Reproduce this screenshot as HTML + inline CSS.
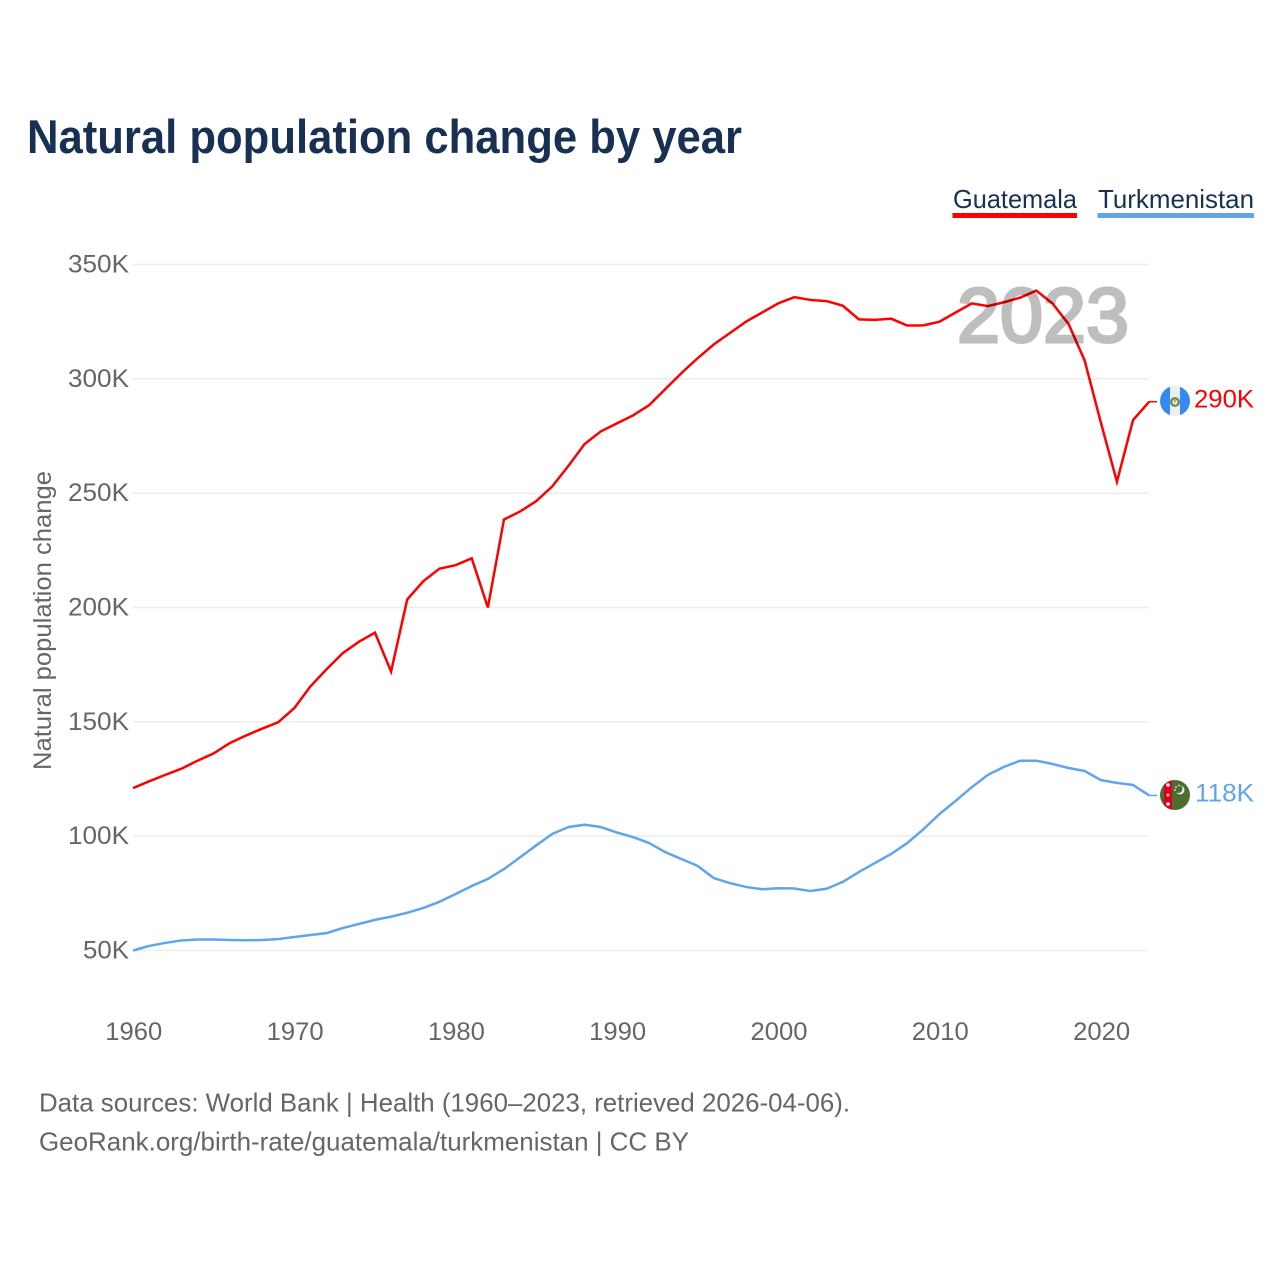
<!DOCTYPE html>
<html lang="en">
<head>
<meta charset="utf-8">
<title>Natural population change by year</title>
<style>
html,body{margin:0;padding:0;background:#fff;}
svg{display:block;font-family:"Liberation Sans",sans-serif;}
</style>
</head>
<body>
<svg id="chart" xmlns="http://www.w3.org/2000/svg" width="1280" height="1280" viewBox="0 0 1280 1280">
  <rect width="1280" height="1280" fill="#fff"/>
  <text x="27" y="153" font-size="47" font-weight="700" fill="#183153" textLength="715" lengthAdjust="spacingAndGlyphs">Natural population change by year</text>

  <text x="953" y="208" font-size="26" fill="#183153" textLength="124" lengthAdjust="spacingAndGlyphs">Guatemala</text>
  <rect x="952.5" y="213" width="124.5" height="5" fill="#ff0000"/>
  <text x="1098" y="208" font-size="26" fill="#183153" textLength="156" lengthAdjust="spacingAndGlyphs">Turkmenistan</text>
  <rect x="1097.5" y="213" width="156.5" height="5" fill="#5fa5ec"/>

  <g id="grid"></g>
  <g id="yticks"></g>
  <g id="xticks"></g>

  <text transform="translate(51 620.5) rotate(-90)" text-anchor="middle" font-size="25" fill="#666" textLength="299" lengthAdjust="spacingAndGlyphs">Natural population change</text>

  <g id="series"></g>

  <g opacity="0.25">
    <text x="957" y="342" font-size="77" fill="#000" stroke="#000" stroke-width="3" textLength="172" lengthAdjust="spacingAndGlyphs">2023</text>
  </g>

  <g>
    <clipPath id="clip-gt"><circle cx="1175" cy="401" r="15"/></clipPath>
    <g clip-path="url(#clip-gt)">
      <rect x="1160" y="386" width="30" height="30" fill="#eeeeee"/>
      <rect x="1160" y="386" width="10" height="30" fill="#338af3"/>
      <rect x="1180" y="386" width="10" height="30" fill="#338af3"/>
      <circle cx="1175" cy="402" r="3.8" fill="none" stroke="#6d8a4e" stroke-width="2.4"/>
      <circle cx="1175" cy="401" r="1.4" fill="#b9a888"/>
    </g>
  </g>
  <text id="end-guatemala" x="1194" y="407.5" font-size="25" fill="#ff0000" textLength="60" lengthAdjust="spacingAndGlyphs">290K</text>

  <g>
    <clipPath id="clip-tm"><circle cx="1175" cy="795" r="15"/></clipPath>
    <g clip-path="url(#clip-tm)">
      <rect x="1160" y="780" width="30" height="30" fill="#496e2d"/>
      <rect x="1164" y="780" width="8" height="30" fill="#d80027"/>
      <circle cx="1168" cy="785" r="1.8" fill="#eeeeee"/>
      <circle cx="1168" cy="795" r="1.5" fill="#ffda44"/>
      <circle cx="1168" cy="804" r="1.8" fill="#eeeeee"/>
      <circle cx="1180" cy="790" r="4.5" fill="#eeeeee"/>
      <circle cx="1178.5" cy="789" r="4" fill="#496e2d"/>
      <circle cx="1176" cy="787" r="0.9" fill="#eeeeee"/>
      <circle cx="1179" cy="785.5" r="0.9" fill="#eeeeee"/>
      <circle cx="1175" cy="790" r="0.9" fill="#eeeeee"/>
    </g>
  </g>
  <text id="end-turkmenistan" x="1195" y="801.5" font-size="25" fill="#5fa5ec" textLength="59" lengthAdjust="spacingAndGlyphs">118K</text>

  <text x="39" y="1111.5" font-size="26" fill="#666" textLength="811" lengthAdjust="spacingAndGlyphs">Data sources: World Bank | Health (1960–2023, retrieved 2026-04-06).</text>
  <text x="39" y="1150.5" font-size="26" fill="#666" textLength="650" lengthAdjust="spacingAndGlyphs">GeoRank.org/birth-rate/guatemala/turkmenistan | CC BY</text>
</svg>
<script>
const startYear = 1960;
const yTicks = [50, 100, 150, 200, 250, 300, 350];
const yTickLabels = ["50K", "100K", "150K", "200K", "250K", "300K", "350K"];
const xTicks = [1960, 1970, 1980, 1990, 2000, 2010, 2020];
const xTickLabels = ["1960", "1970", "1980", "1990", "2000", "2010", "2020"];
const guatemala = [121,124,126.8,129.5,133,136.2,140.7,144,147,149.8,156,165.5,173,180,185,189,172,203.5,211.5,217,218.5,221.5,200,238.5,242,246.5,253,262,271.5,277,280.5,284,288.5,295.5,302.5,309,315,320,325,329,333,335.7,334.5,334,332,326,325.8,326.3,323.3,323.4,325,329,333,331.8,333.5,335.5,338.6,333,324,308,281,255,282,290];
const turkmenistan = [50,52,53.3,54.4,54.8,54.8,54.6,54.5,54.6,55,55.9,56.8,57.6,59.8,61.6,63.4,64.8,66.5,68.6,71.3,74.7,78.2,81.3,85.6,90.8,96,101,104,105,104,101.6,99.6,97,93,90,87,81.7,79.5,77.8,76.8,77.2,77.1,76,77,80,84.3,88.3,92.2,97,103,109.7,115.4,121.4,126.8,130.3,133,133,131.6,129.8,128.5,124.5,123.3,122.4,117.8];

const NS = "http://www.w3.org/2000/svg";
function xScale(year) { return 133 + (year - 1960) * 16.13; }
function yScale(k) { return 950.5 - (k - 50) * (686 / 300); }

const grid = document.getElementById("grid");
const yGroup = document.getElementById("yticks");
yTicks.forEach(function (t, i) {
  const line = document.createElementNS(NS, "line");
  
  
  line.setAttribute("x1", xScale(1960));
  line.setAttribute("x2", xScale(2023));
  line.setAttribute("y1", yScale(t));
  line.setAttribute("y2", yScale(t));
  line.setAttribute("stroke", "#eeeeee");
  line.setAttribute("stroke-width", "1.6");
  grid.appendChild(line);
  const label = document.createElementNS(NS, "text");
  
  
  label.setAttribute("x", 129);
  label.setAttribute("y", yScale(t) + 8);
  label.setAttribute("text-anchor", "end");
  label.setAttribute("font-size", "25");
  label.setAttribute("fill", "#666");
  label.setAttribute("textLength", yTickLabels[i].length === 4 ? 61 : 46);
  label.setAttribute("lengthAdjust", "spacingAndGlyphs");
  label.textContent = yTickLabels[i];
  yGroup.appendChild(label);
});

const xGroup = document.getElementById("xticks");
xTicks.forEach(function (t, i) {
  const label = document.createElementNS(NS, "text");
  
  
  label.setAttribute("x", xScale(t) + 0.8);
  label.setAttribute("y", 1040);
  label.setAttribute("text-anchor", "middle");
  label.setAttribute("font-size", "25");
  label.setAttribute("fill", "#666");
  label.setAttribute("textLength", 57);
  label.setAttribute("lengthAdjust", "spacingAndGlyphs");
  label.textContent = xTickLabels[i];
  xGroup.appendChild(label);
});

function pathFor(values) {
  return values.map(function (v, i) {
    return (i ? "L" : "M") + xScale(startYear + i).toFixed(2) + " " + yScale(v).toFixed(2);
  }).join(" ");
}

const seriesGroup = document.getElementById("series");
const guatemalaLine = document.createElementNS(NS, "path");


guatemalaLine.setAttribute("d", pathFor(guatemala));
guatemalaLine.setAttribute("fill", "none");
guatemalaLine.setAttribute("stroke", "#ff0000");
guatemalaLine.setAttribute("stroke-width", "2.5");
guatemalaLine.setAttribute("stroke-linejoin", "miter");
seriesGroup.appendChild(guatemalaLine);

const turkmenistanLine = document.createElementNS(NS, "path");


turkmenistanLine.setAttribute("d", pathFor(turkmenistan));
turkmenistanLine.setAttribute("fill", "none");
turkmenistanLine.setAttribute("stroke", "#5fa5ec");
turkmenistanLine.setAttribute("stroke-width", "2.5");
turkmenistanLine.setAttribute("stroke-linejoin", "round");
seriesGroup.appendChild(turkmenistanLine);

const connectorGt = document.createElementNS(NS, "line");


connectorGt.setAttribute("x1", xScale(2023));
connectorGt.setAttribute("x2", 1157);
connectorGt.setAttribute("y1", yScale(guatemala[guatemala.length - 1]));
connectorGt.setAttribute("y2", yScale(guatemala[guatemala.length - 1]));
connectorGt.setAttribute("stroke", "#ff0000");
connectorGt.setAttribute("stroke-width", "1.5");
seriesGroup.appendChild(connectorGt);

const connectorTm = document.createElementNS(NS, "line");


connectorTm.setAttribute("x1", xScale(2023));
connectorTm.setAttribute("x2", 1157);
connectorTm.setAttribute("y1", yScale(turkmenistan[turkmenistan.length - 1]));
connectorTm.setAttribute("y2", yScale(turkmenistan[turkmenistan.length - 1]));
connectorTm.setAttribute("stroke", "#5fa5ec");
connectorTm.setAttribute("stroke-width", "1.5");
seriesGroup.appendChild(connectorTm);
</script>
</body>
</html>
